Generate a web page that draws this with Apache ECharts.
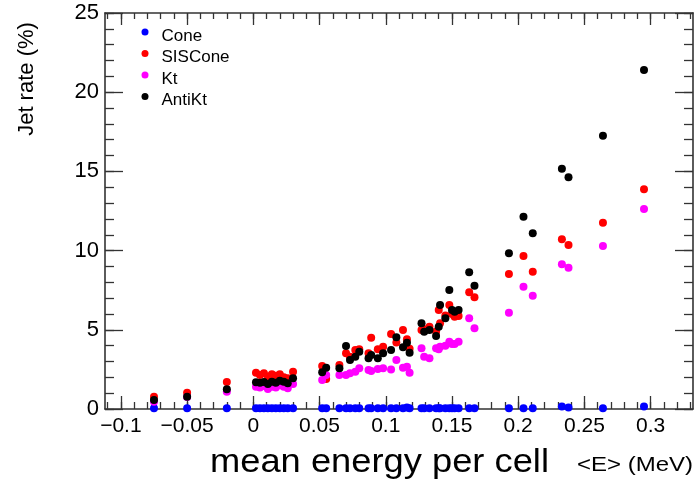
<!DOCTYPE html>
<html>
<head>
<meta charset="utf-8">
<title>Jet rate vs mean energy per cell</title>
<script src="https://cdn.jsdelivr.net/npm/echarts@6/dist/echarts.min.js"></script>
<style>
  html, body { margin: 0; padding: 0; background: #fff; }
  #chart { width: 697px; height: 479px; }
</style>
</head>
<body>
<div id="chart"></div>
<script>
// Mean energy per cell <E> (MeV), one entry per run
const energy = [
  -0.075, -0.050, -0.020,
  0.002, 0.005, 0.008, 0.011, 0.014, 0.017, 0.020, 0.023, 0.026, 0.030,
  0.052, 0.055, 0.065, 0.070, 0.073, 0.077, 0.080, 0.087, 0.089, 0.094, 0.098,
  0.104, 0.108, 0.113, 0.116, 0.118, 0.127, 0.129, 0.133, 0.138, 0.140, 0.141,
  0.145, 0.148, 0.150, 0.152, 0.155, 0.163, 0.167,
  0.193, 0.204, 0.211, 0.233, 0.238, 0.264, 0.295
];

// Jet rate (%) for each algorithm, same order as energy
const cone = [
  0.05, 0.05, 0.05,
  0.05, 0.05, 0.05, 0.05, 0.05, 0.05, 0.05, 0.05, 0.05, 0.05,
  0.05, 0.05, 0.05, 0.05, 0.05, 0.05, 0.05, 0.05, 0.05, 0.05, 0.05,
  0.05, 0.05, 0.05, 0.10, 0.05, 0.05, 0.05, 0.05, 0.05, 0.05, 0.05,
  0.05, 0.05, 0.05, 0.05, 0.05, 0.05, 0.05,
  0.05, 0.05, 0.05, 0.15, 0.10, 0.05, 0.15
];
const sisCone = [
  0.78, 1.03, 1.70,
  2.29, 2.15, 2.25, 2.05, 2.20, 2.10, 2.20, 2.00, 1.94, 2.35,
  2.71, 1.89, 2.78, 3.52, 3.30, 3.72, 3.77, 3.52, 4.50, 3.77, 3.93,
  4.73, 4.20, 4.99, 4.40, 3.80, 4.99, 5.03, 5.20, 4.90, 6.25, 5.41,
  5.90, 6.57, 6.00, 5.83, 5.87, 7.37, 7.05,
  8.52, 9.66, 8.67, 10.71, 10.35, 11.76, 13.87
];
const kt = [
  0.45, 0.75, 1.09,
  1.41, 1.35, 1.45, 1.26, 1.40, 1.35, 1.50, 1.40, 1.31, 1.58,
  1.83, 2.15, 2.15, 2.15, 2.25, 2.35, 2.57, 2.46, 2.40, 2.53, 2.57,
  2.50, 3.09, 2.60, 2.67, 2.29, 3.83, 3.30, 3.20, 3.83, 3.77, 3.93,
  4.00, 4.25, 4.10, 4.10, 4.25, 5.73, 5.09,
  6.08, 7.72, 7.15, 9.14, 8.92, 10.29, 12.63
];
const antiKt = [
  0.57, 0.78, 1.24,
  1.69, 1.65, 1.70, 1.58, 1.72, 1.65, 1.78, 1.72, 1.62, 1.94,
  2.32, 2.61, 2.57, 3.98, 3.09, 3.30, 3.62, 3.20, 3.41, 3.20, 3.52,
  3.72, 4.53, 3.90, 4.19, 3.55, 5.41, 4.88, 4.99, 4.61, 5.20, 6.57,
  5.73, 7.51, 6.25, 6.14, 6.25, 8.63, 7.78,
  9.83, 12.14, 11.09, 15.17, 14.63, 17.25, 21.40
];

// Axis ranges and tick positions
const xMin = -0.112, xMax = 0.332;
const xMajorTicks = [-0.1, -0.05, 0, 0.05, 0.1, 0.15, 0.2, 0.25, 0.3];
const xMinorTicks = [];
for (let k = -11; k <= 33; k++) xMinorTicks.push(+(k * 0.01).toFixed(2));
const yMin = 0, yMax = 25;

const FONT = '"Liberation Sans", Arial, Helvetica, sans-serif';
const frameLine = { show: true, onZero: false, lineStyle: { color: '#333', width: 1.6 } };
const noLine = { show: false, onZero: false };
const tickLine = { color: '#333', width: 1.3 };

function fmtX(v) {
  const r = +(+v).toFixed(2);
  if (r === 0) return '0';
  return r < 0 ? '\u2212' + String(-r) : String(r);
}

function xAxisDef(position, major, length, showLabel) {
  return {
    type: 'value', position: position, min: xMin, max: xMax,
    axisLine: major ? frameLine : noLine,
    axisTick: { show: true, inside: true, length: length,
      customValues: major ? xMajorTicks : xMinorTicks, lineStyle: tickLine },
    axisLabel: showLabel ? {
      show: true, customValues: xMajorTicks, formatter: fmtX,
      fontFamily: FONT, fontSize: 21, color: '#000', margin: 7
    } : { show: false },
    splitLine: { show: false }
  };
}

function yAxisDef(position, major, length, showLabel) {
  return {
    type: 'value', position: position, min: yMin, max: yMax,
    interval: major ? 5 : 1,
    axisLine: major ? frameLine : noLine,
    axisTick: { show: true, inside: true, length: length, lineStyle: tickLine },
    axisLabel: showLabel ? {
      show: true, fontFamily: FONT, fontSize: 22, color: '#000', margin: 6
    } : { show: false },
    splitLine: { show: false }
  };
}

function points(values) {
  return energy.map((e, i) => [e, values[i]]);
}

const seriesDefs = [
  { name: 'Cone', color: '#0000ff', values: cone },
  { name: 'SISCone', color: '#ff0000', values: sisCone },
  { name: 'Kt', color: '#ff00ff', values: kt },
  { name: 'AntiKt', color: '#000000', values: antiKt }
];

const chart = echarts.init(document.getElementById('chart'), null, { renderer: 'canvas' });

chart.setOption({
  animation: false,
  backgroundColor: '#ffffff',
  grid: { left: 105, right: 4, top: 13, bottom: 70 },
  xAxis: [
    xAxisDef('bottom', true, 13, true),
    xAxisDef('bottom', false, 7, false),
    xAxisDef('top', true, 12, false),
    xAxisDef('top', false, 6, false)
  ],
  yAxis: [
    yAxisDef('left', true, 18, true),
    yAxisDef('left', false, 9, false),
    yAxisDef('right', true, 18, false),
    yAxisDef('right', false, 9, false)
  ],
  legend: {
    orient: 'vertical', left: 141.5, top: 19.5, padding: 0, itemGap: -3.5,
    itemWidth: 7, itemHeight: 7, icon: 'circle',
    data: seriesDefs.map(s => s.name),
    formatter: name => '{t|' + name + '}',
    textStyle: {
      fontFamily: FONT, fontSize: 17, color: '#000',
      rich: { t: { fontFamily: FONT, fontSize: 17, lineHeight: 13,
        color: '#000', padding: [8, 0, 0, 8] } }
    }
  },
  series: seriesDefs.map(s => ({
    name: s.name, type: 'scatter', xAxisIndex: 0, yAxisIndex: 0,
    symbol: 'circle', symbolSize: 8,
    itemStyle: { color: s.color, opacity: 1 },
    emphasis: { disabled: true },
    data: points(s.values)
  })),
  graphic: [
    { type: 'text', x: 27, y: 79, rotation: Math.PI / 2,
      style: { text: 'Jet rate (%)', fontFamily: FONT, fontSize: 22,
        fill: '#000', align: 'center', verticalAlign: 'middle' } },
    { type: 'text', x: 210, y: 479, scaleX: 1.1,
      style: { text: 'mean energy per cell', fontFamily: FONT, fontSize: 33,
        fill: '#000', align: 'left', verticalAlign: 'bottom' } },
    { type: 'text', x: 577, y: 475, scaleX: 1.2,
      style: { text: '<E> (MeV)', fontFamily: FONT, fontSize: 20,
        fill: '#000', align: 'left', verticalAlign: 'bottom' } }
  ]
});
</script>
</body>
</html>
